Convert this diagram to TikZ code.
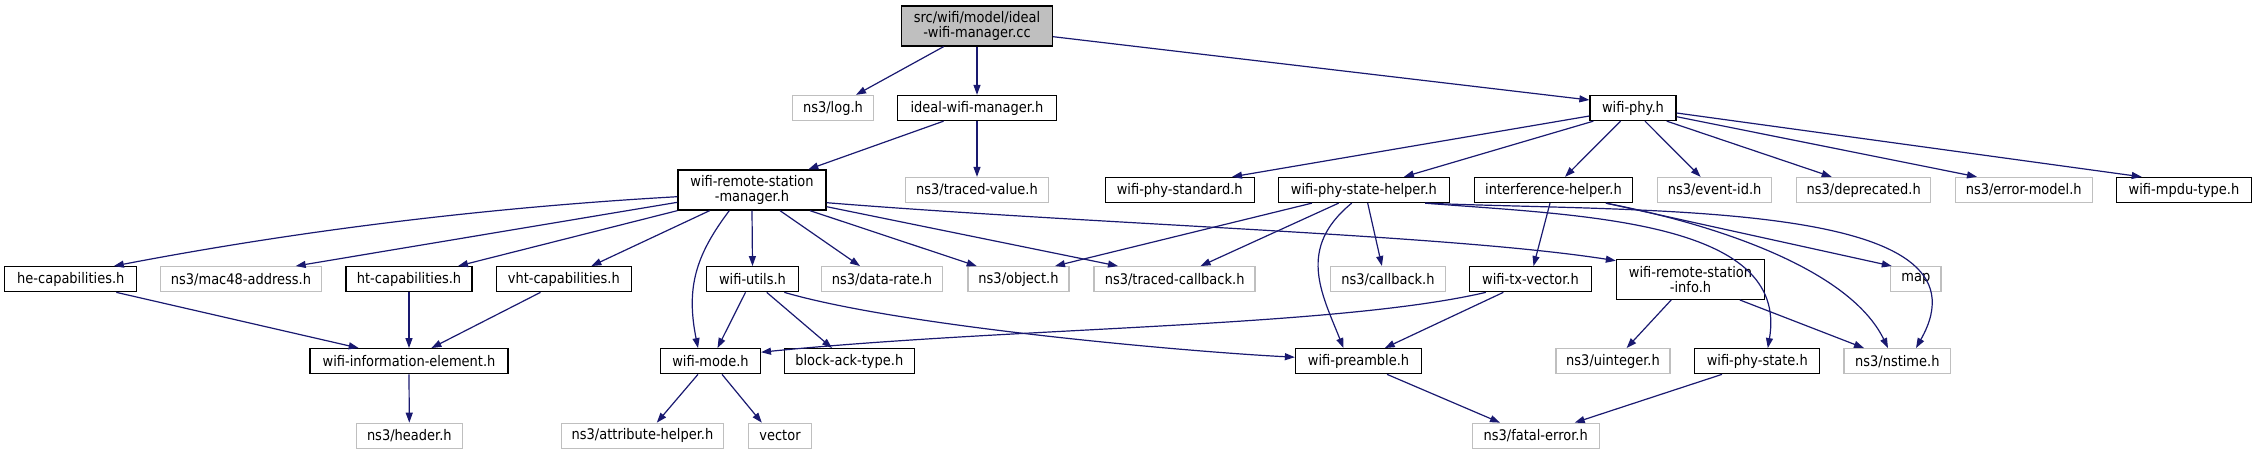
\documentclass[tikz,border=0pt]{standalone}
\usepackage{fontspec}
\setmainfont{DejaVu Sans}[FakeStretch=0.89]
\usetikzlibrary{arrows.meta}
\definecolor{edgec}{HTML}{191970}
\definecolor{extc}{HTML}{BFBFBF}
\tikzset{
 base/.style={rectangle, inner sep=0pt, minimum height=25pt, font=\fontsize{14.6}{15}\selectfont, align=center},
 intn/.style={base, draw=black, line width=1.3pt},
 extn/.style={base, draw=extc, line width=1.3pt},
 twol/.style={minimum height=40pt},
 rootn/.style={intn, fill=extc, minimum height=40pt},
 e/.style={draw=edgec, line width=1.2pt, -{Triangle[length=10pt,width=7pt]}},
}
\begin{document}
\begin{tikzpicture}[x=1pt,y=-1pt]
\useasboundingbox (0,0) rectangle (2257,455);
% row 1
\node[rootn, minimum width=151pt] (src) at (977,26) {src/wifi/model/ideal\\-wifi-manager.cc};
% row 2
\node[extn, minimum width=81pt] (log) at (833,108) {ns3/log.h};
\node[intn, minimum width=159pt] (ideal) at (977,108) {ideal-wifi-manager.h};
\node[intn, minimum width=86pt] (phy) at (1633,108) {wifi-phy.h};
% row 3
\node[intn, twol, minimum width=148pt] (mgr) at (752,190) {wifi-remote-station\\-manager.h};
\node[extn, minimum width=143.5pt] (tv) at (977,190) {ns3/traced-value.h};
\node[intn, minimum width=149pt] (std) at (1179.7,190) {wifi-phy-standard.h};
\node[intn, minimum width=171pt] (psh) at (1363.9,190) {wifi-phy-state-helper.h};
\node[intn, minimum width=158pt] (ifh) at (1553.5,190) {interference-helper.h};
\node[extn, minimum width=114.4pt] (eid) at (1714.6,190) {ns3/event-id.h};
\node[extn, minimum width=134pt] (dep) at (1863.7,190) {ns3/deprecated.h};
\node[extn, minimum width=137pt] (err) at (2023.7,190) {ns3/error-model.h};
\node[intn, minimum width=135pt] (mpdu) at (2184,190) {wifi-mpdu-type.h};
% row 4
\node[intn, minimum width=132pt] (he) at (70.8,279.2) {he-capabilities.h};
\node[extn, minimum width=161.5pt] (mac) at (241,279.2) {ns3/mac48-address.h};
\node[intn, minimum width=126pt] (ht) at (409,279.2) {ht-capabilities.h};
\node[intn, minimum width=134.7pt] (vht) at (563.8,279.2) {vht-capabilities.h};
\node[intn, minimum width=91.5pt] (ut) at (752.5,279.2) {wifi-utils.h};
\node[extn, minimum width=121pt] (dr) at (882,279.2) {ns3/data-rate.h};
\node[extn, minimum width=101pt] (obj) at (1018.5,279.2) {ns3/object.h};
\node[extn, minimum width=161pt] (tc) at (1174.6,279.2) {ns3/traced-callback.h};
\node[extn, minimum width=115pt] (cb) at (1387.9,279.2) {ns3/callback.h};
\node[intn, minimum width=122pt] (tx) at (1530.5,279.2) {wifi-tx-vector.h};
\node[intn, twol, minimum width=148pt] (ri) at (1690.5,279.3) {wifi-remote-station\\-info.h};
\node[extn, minimum width=50.4pt] (map) at (1915.8,279.2) {map};
% row 5
\node[intn, minimum width=198pt] (ie) at (409,361.2) {wifi-information-element.h};
\node[intn, minimum width=99.7pt] (mode) at (710.5,361.2) {wifi-mode.h};
\node[intn, minimum width=130pt] (ba) at (849.3,361.2) {block-ack-type.h};
\node[intn, minimum width=126pt] (pre) at (1358.5,361.2) {wifi-preamble.h};
\node[extn, minimum width=114pt] (ui) at (1613,361.2) {ns3/uinteger.h};
\node[intn, minimum width=125pt] (ps) at (1757.3,361.2) {wifi-phy-state.h};
\node[extn, minimum width=106.7pt] (ns) at (1897.3,361.2) {ns3/nstime.h};
% row 6
\node[extn, minimum width=106pt] (hd) at (409.3,435.8) {ns3/header.h};
\node[extn, minimum width=162pt] (ah) at (642.5,435.8) {ns3/attribute-helper.h};
\node[extn, minimum width=62.6pt] (vec) at (780,435.8) {vector};
\node[extn, minimum width=127pt] (fe) at (1535.7,435.8) {ns3/fatal-error.h};
% edges
\draw[e] ([xshift=-33.4pt]src.south) -- ([xshift=23pt]log.north);
\draw[e] (src.south) -- (ideal.north);
\draw[e] ([yshift=-10.7pt]src.east) -- ([yshift=8pt]phy.west);
\draw[e] ([xshift=-33.4pt]ideal.south) -- ([xshift=56.3pt]mgr.north);
\draw[e] (ideal.south) -- (tv.north);
\draw[e] ([yshift=-8pt]phy.west) -- ([xshift=52.3pt]std.north);
\draw[e] ([xshift=4pt]phy.south west) -- ([xshift=40pt]psh.north);
\draw[e] ([xshift=-12.4pt]phy.south) -- ([xshift=11.5pt]ifh.north);
\draw[e] ([xshift=12pt]phy.south) -- ([xshift=-14pt]eid.north);
\draw[e] ([xshift=33.7pt]phy.south) -- ([xshift=-32pt]dep.north);
\draw[e] ([yshift=-8.7pt]phy.east) -- ([xshift=-46.7pt]err.north);
\draw[e] ([yshift=-5pt]phy.east) -- ([xshift=-42.3pt]mpdu.north);
\draw[e] ([yshift=-6.7pt]mgr.west) .. controls +(-188,10.6) and +(188,-36) .. ([xshift=43pt]he.north);
\draw[e] ([yshift=-12.3pt]mgr.west) -- ([xshift=54.7pt]mac.north);
\draw[e] (mgr.south west) -- ([xshift=49pt]ht.north);
\draw[e] ([xshift=32.3pt]mgr.south west) -- ([xshift=27.6pt]vht.north);
\draw[e] ([xshift=-22.7pt]mgr.south) .. controls +(-34,45) and +(-12,-60) .. ([xshift=-12.5pt]mode.north);
\draw[e] (mgr.south) -- (ut.north);
\draw[e] ([xshift=28pt]mgr.south) -- ([xshift=-22pt]dr.north);
\draw[e] ([xshift=58pt]mgr.south) -- ([xshift=-41.8pt]obj.north);
\draw[e] ([yshift=-16.7pt]mgr.east) -- ([xshift=-56.6pt]tc.north);
\draw[e] ([yshift=-12.7pt]mgr.east) .. controls +(274,22) and +(-166,-26) .. ([yshift=18.6pt]ri.west);
\draw[e] ([xshift=-52pt]psh.south) -- ([xshift=36.5pt]obj.north);
\draw[e] ([xshift=-25.3pt]psh.south) -- ([xshift=26pt]tc.north);
\draw[e] ([xshift=-12.2pt]psh.south) .. controls +(-55,45) and +(-22,-55) .. ([xshift=-15pt]pre.north);
\draw[e] ([xshift=3.8pt]psh.south) -- ([xshift=-6pt]cb.north);
\draw[e] ([xshift=-25pt]psh.south east) .. controls +(156,12.3) and +(22,-128) .. ([xshift=10.5pt]ps.north);
\draw[e] ([xshift=-25pt]psh.south east) .. controls +(226,9.3) and +(84,-148) .. ([xshift=18.7pt]ns.north);
\draw[e] ([xshift=-3.5pt]ifh.south) -- ([xshift=3pt]tx.north);
\draw[e] ([xshift=52.5pt]ifh.south) -- ([xshift=-24pt]map.north);
\draw[e] ([xshift=52.5pt]ifh.south) .. controls +(114,22.3) and +(-38,-78) .. ([xshift=-9.3pt]ns.north);
\draw[e] ([xshift=-7pt]ut.south) -- ([xshift=7pt]mode.north);
\draw[e] ([xshift=14.2pt]ut.south) -- ([xshift=-17.3pt]ba.north);
\draw[e] ([xshift=-14.6pt]ut.south east) .. controls +(120,35) and +(-100,-5) .. ([yshift=4pt]pre.west);
\draw[e] ([xshift=17pt]tx.south west) .. controls +(-150,35) and +(250,-25) .. ([yshift=9pt]mode.east);
\draw[e] ([xshift=34.5pt]tx.south west) -- ([xshift=26.2pt]pre.north);
\draw[e] ([xshift=-19.3pt]ri.south) -- ([xshift=13.6pt]ui.north);
\draw[e] ([xshift=49.3pt]ri.south) -- ([xshift=-33.3pt]ns.north);
\draw[e] ([xshift=-12.5pt]mode.south) -- ([xshift=14.3pt]ah.north);
\draw[e] ([xshift=11.5pt]mode.south) -- ([xshift=-18.2pt]vec.north);
\draw[e] ([xshift=45.5pt]he.south) -- ([xshift=-50.3pt]ie.north);
\draw[e] (ht.south) -- (ie.north);
\draw[e] ([xshift=-23.3pt]vht.south) -- ([xshift=22.4pt]ie.north);
\draw[e] (ie.south) -- (hd.north);
\draw[e] ([xshift=28.5pt]pre.south) -- ([xshift=-35.7pt]fe.north);
\draw[e] ([xshift=-35.3pt]ps.south) -- ([xshift=39pt]fe.north);
\end{tikzpicture}
\end{document}
